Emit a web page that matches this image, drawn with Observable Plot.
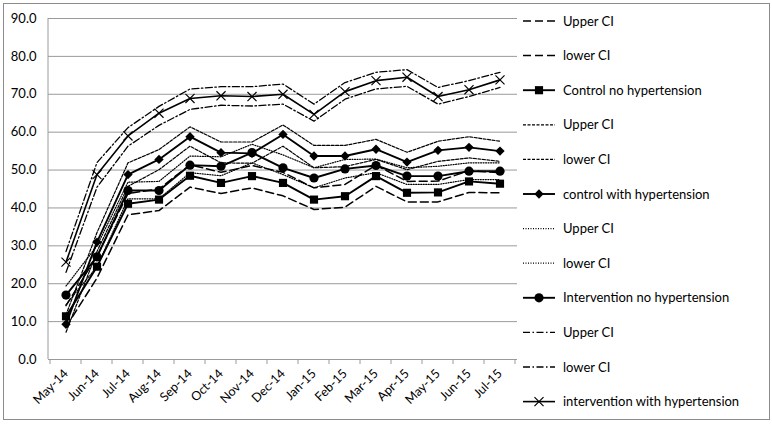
<!DOCTYPE html>
<html><head><meta charset="utf-8">
<script src="https://cdn.jsdelivr.net/npm/d3@7"></script>
<script src="https://cdn.jsdelivr.net/npm/@observablehq/plot@0.6"></script>
<style>body{margin:0;background:#fff}</style>
</head><body><div id="chart"></div>
<script>
const months = ["May-14","Jun-14","Jul-14","Aug-14","Sep-14","Oct-14","Nov-14","Dec-14","Jan-15","Feb-15","Mar-15","Apr-15","May-15","Jun-15","Jul-15"];
const yTicks = [0,10,20,30,40,50,60,70,80,90];

const controlNoHypUpper = [14.2, 27.3, 43.8, 45.0, 51.4, 49.4, 51.2, 49.4, 45.3, 46.2, 51.3, 47.0, 47.1, 49.8, 49.3];
const controlNoHypLower = [8.6, 21.5, 38.2, 39.3, 45.5, 43.8, 45.3, 43.2, 39.6, 40.2, 45.7, 41.6, 41.6, 44.1, 44.0];
const controlNoHyp      = [11.4, 24.5, 41.1, 42.2, 48.5, 46.6, 48.4, 46.6, 42.2, 43.1, 48.4, 44.0, 44.1, 47.0, 46.4];
const controlHypUpper   = [11.8, 33.5, 51.9, 55.4, 61.4, 57.4, 57.4, 61.9, 56.5, 56.5, 58.1, 54.7, 57.6, 58.8, 57.6];
const controlHypLower   = [7.2, 28.5, 45.7, 50.1, 56.3, 51.9, 51.8, 56.3, 50.6, 50.9, 52.8, 50.1, 52.3, 53.2, 52.3];
const controlHyp        = [9.3, 31.0, 48.8, 52.8, 58.8, 54.6, 54.4, 59.4, 53.7, 53.7, 55.5, 52.1, 55.2, 56.0, 55.0];
const interNoHypUpper   = [19.4, 30.0, 46.8, 47.0, 53.7, 53.5, 56.8, 54.0, 50.6, 52.8, 52.9, 50.6, 51.0, 51.9, 51.9];
const interNoHypLower   = [14.5, 24.5, 42.4, 42.4, 49.3, 48.5, 51.9, 48.8, 45.3, 47.9, 49.3, 46.2, 46.2, 47.5, 47.5];
const interNoHyp        = [17.0, 27.1, 44.6, 44.6, 51.3, 51.0, 54.6, 50.6, 47.9, 50.3, 51.2, 48.4, 48.4, 49.7, 49.7];
const interHypUpper     = [28.5, 52.0, 61.2, 66.8, 71.4, 72.0, 72.0, 72.7, 67.4, 73.1, 75.8, 76.5, 71.8, 73.6, 75.8];
const interHypLower     = [23.0, 45.5, 56.3, 61.8, 66.0, 67.1, 66.9, 67.4, 62.9, 68.7, 71.4, 72.1, 67.4, 69.4, 71.8];
const interHyp          = [25.7, 48.8, 59.0, 65.0, 68.9, 69.6, 69.4, 70.0, 64.7, 70.7, 73.6, 74.5, 69.4, 71.2, 73.8];

const seriesLabels = ["Upper CI","lower CI","Control no hypertension","Upper CI","lower CI","control with hypertension","Upper CI","lower CI","Intervention no hypertension","Upper CI","lower CI","intervention with hypertension"];
const seriesValues = [controlNoHypUpper, controlNoHypLower, controlNoHyp, controlHypUpper, controlHypLower, controlHyp, interNoHypUpper, interNoHypLower, interNoHyp, interHypUpper, interHypLower, interHyp];

// styles (not data)
const styles = [
  {dash:"8,4", w:1.5}, {dash:"8,4", w:1.5}, {dash:null, w:1.9, sym:"square", r:4.6},
  {dash:"3,1.5", w:1.2}, {dash:"3,1.5", w:1.2}, {dash:null, w:1.9, sym:"diamond2", r:4.2},
  {dash:"1,1.5", w:1.2}, {dash:"1,1.5", w:1.2}, {dash:null, w:1.9, sym:"circle", r:4.6},
  {dash:"7,2.5,1.5,2.5", w:1.3}, {dash:"7,2.5,1.5,2.5", w:1.3}, {dash:null, w:1.6, sym:"times", r:4.2}
];

const rows = [];
seriesValues.forEach((vals, s) => vals.forEach((v, i) => rows.push({s, month: months[i], value: v})));

const gray = "#9a9a9a";
const font = "Lato, 'Open Sans', sans-serif";

const marks = [
  Plot.ruleY(yTicks, {stroke: gray, strokeWidth: 1}),
  Plot.axisY({ticks: yTicks, tickFormat: d3.format(".1f"), tickSize: 0, tickPadding: 12, fontSize: 13, fill: "#000"}),
  Plot.axisX({tickRotate: -45, tickSize: 0, tickPadding: 12, fontSize: 12.5, fill: "#000", textAnchor: "end"}),
  (index, scales, values, dims) => {
    const g = d3.create("svg:g").attr("text-anchor", "start");
    const x = scales.x, bw = x.bandwidth();
    const y0 = dims.height - dims.marginBottom, y1 = dims.marginTop;
    const xl = dims.marginLeft;
    g.append("line").attr("x1", xl).attr("x2", xl).attr("y1", y1).attr("y2", y0).attr("stroke", gray);
    const edges = months.map(m => x(m)).concat([x(months[months.length-1]) + bw]);
    edges.forEach(e => g.append("line").attr("x1", e).attr("x2", e).attr("y1", y0).attr("y2", y0 + 5).attr("stroke", gray));
    // legend
    const lx = dims.width - dims.marginRight + 6;
    seriesLabels.forEach((lab, k) => {
      const st = styles[k];
      const ly = 21 + k * 34.6;
      const ln = g.append("line").attr("x1", lx).attr("x2", lx + 32).attr("y1", ly).attr("y2", ly)
        .attr("stroke", "#000").attr("stroke-width", st.w);
      if (st.dash) ln.attr("stroke-dasharray", st.dash);
      if (st.sym) {
        const symMap = {square: d3.symbolSquare, diamond2: d3.symbolDiamond2, circle: d3.symbolCircle, times: d3.symbolTimes};
        const path = d3.symbol(symMap[st.sym], Math.PI * st.r * st.r)();
        const p = g.append("path").attr("d", path).attr("transform", `translate(${lx + 16},${ly})`);
        if (st.sym === "times") p.attr("fill", "none").attr("stroke", "#000").attr("stroke-width", 1.2);
        else p.attr("fill", "#000");
      }
      g.append("text").attr("x", lx + 40).attr("y", ly).attr("dy", "0.35em").attr("text-anchor", "start")
        .attr("font-size", 13).attr("font-family", font).attr("fill", "#000").text(lab);
    });
    g.append("rect").attr("x", 3.5).attr("y", 3.5).attr("width", 766).attr("height", 416)
      .attr("fill", "none").attr("stroke", "#8c8c8c");
    return g.node();
  }
];

styles.forEach((st, s) => {
  const data = rows.filter(r => r.s === s);
  marks.push(Plot.line(data, {x: "month", y: "value", stroke: "#000", strokeWidth: st.w, strokeDasharray: st.dash || undefined}));
  if (st.sym) {
    if (st.sym === "times") marks.push(Plot.dot(data, {x: "month", y: "value", symbol: "times", r: st.r, stroke: "#000", strokeWidth: 1.2, fill: "none"}));
    else marks.push(Plot.dot(data, {x: "month", y: "value", symbol: st.sym, r: st.r, fill: "#000", stroke: "none"}));
  }
});

const chart = Plot.plot({
  width: 772, height: 424,
  marginLeft: 48, marginRight: 255, marginTop: 18, marginBottom: 65,
  style: {fontFamily: font, fontSize: "13px", background: "#fff", color: "#000"},
  x: {type: "band", domain: months, padding: 0, label: null},
  y: {domain: [0, 90], label: null},
  marks
});
document.getElementById("chart").appendChild(chart);
</script>
</body></html>
